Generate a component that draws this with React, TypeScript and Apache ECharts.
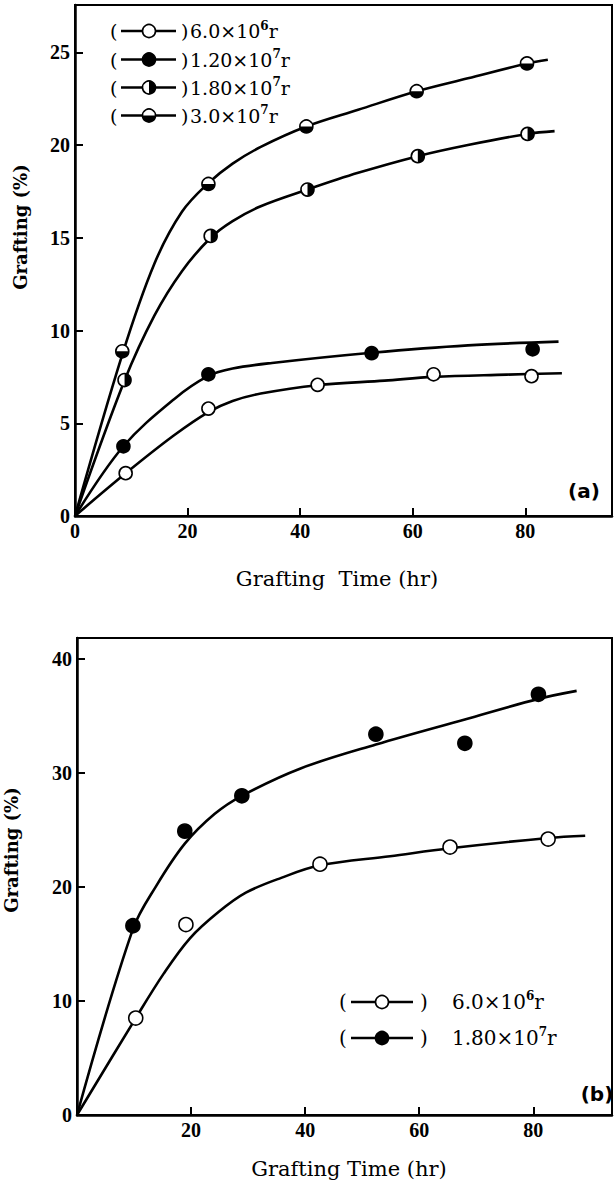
import React, { useEffect, useRef } from 'react';
import * as echarts from 'echarts';

// ---------- Panel (a) ----------
const xTicksA = [0, 20, 40, 60, 80];
const yTicksA = [0, 5, 10, 15, 20, 25];

const aCurve6e6 = [[0, 0], [9.0, 2.3], [17.6, 4.35], [23.7, 5.6], [28.0, 6.2], [33.0, 6.6], [43.1, 7.05], [55.0, 7.3], [63.7, 7.5], [76.7, 7.62], [86.5, 7.7]];
const aPts6e6 = [[9.0, 2.31], [23.7, 5.79], [43.1, 7.07], [63.7, 7.64], [81.1, 7.54]];

const aCurve12e7 = [[0, 0], [8.6, 3.76], [17.6, 6.3], [23.7, 7.55], [28.0, 7.95], [35.0, 8.25], [52.7, 8.8], [69.8, 9.2], [85.9, 9.4]];
const aPts12e7 = [[8.6, 3.76], [23.7, 7.64], [52.7, 8.78], [81.3, 8.99]];

const aCurve18e7 = [[0, 0], [8.8, 7.3], [14.1, 10.8], [19.0, 13.2], [24.1, 15.0], [28.0, 15.9], [33.0, 16.7], [41.3, 17.6], [50.3, 18.5], [60.9, 19.4], [69.8, 20.0], [80.4, 20.6], [85.2, 20.75]];
const aPts18e7 = [[8.8, 7.33], [24.1, 15.1], [41.3, 17.6], [60.9, 19.4], [80.4, 20.6]];

const aCurve3e7 = [[0, 0], [8.4, 8.7], [14.1, 13.6], [19.0, 16.4], [23.7, 17.95], [28.0, 19.0], [33.0, 19.9], [41.1, 21.0], [50.3, 21.9], [60.7, 22.9], [69.8, 23.6], [80.3, 24.4], [84.0, 24.6]];
const aPts3e7 = [[8.4, 8.88], [23.7, 17.9], [41.1, 21.0], [60.7, 22.9], [80.3, 24.4]];

// ---------- Panel (b) ----------
const xTicksB = [20, 40, 60, 80];
const yTicksB = [0, 10, 20, 30, 40];

const bCurveOpen = [[0, 0], [10.3, 8.5], [15.2, 12.4], [19.8, 15.5], [24.8, 17.8], [29.6, 19.5], [35.8, 20.8], [42.6, 21.9], [54.9, 22.7], [65.4, 23.4], [82.6, 24.3], [89.1, 24.5]];
const bPtsOpen = [[10.3, 8.5], [19.1, 16.7], [42.6, 22.0], [65.4, 23.5], [82.6, 24.2]];

const bCurveFilled = [[0, 0], [9.8, 16.3], [13.9, 20.1], [18.9, 23.8], [24.1, 26.4], [28.9, 28.0], [39.2, 30.4], [52.4, 32.5], [68.0, 34.7], [80.9, 36.5], [87.6, 37.2]];
const bPtsFilled = [[9.8, 16.6], [18.9, 24.9], [28.9, 28.0], [52.4, 33.4], [68.0, 32.6], [80.9, 36.9]];

// legend texts
const legendA = [
  { kind: 'open', base: '6.0×10', exp: '6' },
  { kind: 'filled', base: '1.20×10', exp: '7' },
  { kind: 'halfRight', base: '1.80×10', exp: '7' },
  { kind: 'halfBottom', base: '3.0×10', exp: '7' },
];
const legendB = [
  { kind: 'open', base: '6.0×10', exp: '6' },
  { kind: 'filled', base: '1.80×10', exp: '7' },
];

const SERIF = 'DejaVu Serif';
const TICKFONT = '"Liberation Serif", "Times New Roman", serif';

function buildMarker(kind: string, cx: number, cy: number, r: number) {
  const children: any[] = [];
  children.push({
    type: 'circle',
    shape: { cx, cy, r },
    style: { fill: kind === 'filled' ? '#000' : '#fff', stroke: '#000', lineWidth: 1.6 },
  });
  if (kind === 'halfRight') {
    children.push({
      type: 'sector',
      shape: { cx, cy, r0: 0, r, startAngle: -Math.PI / 2, endAngle: Math.PI / 2, clockwise: true },
      style: { fill: '#000' },
    });
  }
  if (kind === 'halfBottom') {
    children.push({
      type: 'sector',
      shape: { cx, cy, r0: 0, r, startAngle: 0, endAngle: Math.PI, clockwise: true },
      style: { fill: '#000' },
    });
  }
  return { type: 'group', children };
}

function markerSeries(data: number[][], kind: string, r: number, idx: number) {
  return {
    type: 'custom',
    xAxisIndex: idx,
    yAxisIndex: idx,
    data,
    z: 10,
    clip: false,
    silent: true,
    renderItem: (_params: any, api: any) => {
      const p = api.coord([api.value(0), api.value(1)]);
      return buildMarker(kind, p[0], p[1], r);
    },
  };
}

function lineSeries(data: number[][], idx: number) {
  return {
    type: 'line',
    xAxisIndex: idx,
    yAxisIndex: idx,
    data,
    smooth: 0.35,
    showSymbol: false,
    symbol: 'none',
    silent: true,
    z: 5,
    lineStyle: { color: '#000', width: 2.6 },
  };
}

function legendRow(item: any, y: number, pos: any) {
  return {
    type: 'group',
    children: [
      { type: 'text', x: pos.pl, y, style: { text: '(', fill: '#000', fontFamily: SERIF, fontSize: pos.fs, verticalAlign: 'middle', textVerticalAlign: 'middle' } },
      { type: 'line', shape: { x1: pos.l1, y1: y, x2: pos.l2, y2: y }, style: { stroke: '#000', lineWidth: 2.5 } },
      buildMarker(item.kind, pos.m, y, pos.r),
      { type: 'text', x: pos.pr, y, style: { text: ')', fill: '#000', fontFamily: SERIF, fontSize: pos.fs, verticalAlign: 'middle', textVerticalAlign: 'middle' } },
      {
        type: 'text',
        x: pos.t,
        y,
        style: {
          text: `{n|${item.base}}{s|${item.exp}}{n|r}`,
          verticalAlign: 'middle',
          textVerticalAlign: 'middle',
          rich: {
            n: { fontFamily: SERIF, fontSize: pos.fs, fill: '#000', lineHeight: pos.fs + 4 },
            s: { fontFamily: SERIF, fontSize: 12, fontWeight: 'bold', fill: '#000', lineHeight: 12, verticalAlign: 'top' },
          },
        },
      },
    ],
  };
}

function makeAxis(idx: number, min: number, max: number, interval: number, ticks: number[]) {
  return {
    type: 'value',
    gridIndex: idx,
    min,
    max,
    interval,
    axisLine: { show: true, onZero: false, lineStyle: { color: '#000', width: 2.5 } },
    axisTick: { show: true, inside: true, length: 8, lineStyle: { color: '#000', width: 2 } },
    splitLine: { show: false },
    axisLabel: {
      color: '#000',
      fontFamily: TICKFONT,
      fontWeight: 'bold',
      fontSize: 20,
      margin: 5,
      formatter: (v: number) => (ticks.includes(Math.round(v * 1000) / 1000) ? String(v) : ''),
    },
  };
}

export default function App() {
  const ref = useRef<HTMLDivElement>(null);
  useEffect(() => {
    const chart = echarts.init(ref.current!, undefined, { renderer: 'svg', width: 615, height: 1185 });
    const posA = { pl: 110, l1: 121, l2: 176, m: 149, r: 6.5, pr: 181, t: 190, fs: 19 };
    const posB = { pl: 339, l1: 351, l2: 413, m: 382, r: 6.5, pr: 420, t: 452, fs: 20 };
    const legendYA = [31, 59.5, 87.5, 115.5];
    const legendYB = [1002, 1038];
    const titleStyle = { fill: '#000', fontFamily: SERIF, align: 'center', verticalAlign: 'middle', textAlign: 'center', textVerticalAlign: 'middle' };
    const option: any = {
      animation: false,
      backgroundColor: '#fff',
      grid: [
        { left: 75, top: 5, width: 539, height: 511, show: true, borderColor: '#000', borderWidth: 2, backgroundColor: 'transparent' },
        { left: 77, top: 638, width: 537, height: 477, show: true, borderColor: '#000', borderWidth: 2, backgroundColor: 'transparent' },
      ],
      xAxis: [
        makeAxis(0, 0, 95.4, 20, xTicksA),
        makeAxis(1, 0, 93.8, 20, xTicksB),
      ],
      yAxis: [
        makeAxis(0, 0, 27.55, 5, yTicksA),
        makeAxis(1, 0, 41.84, 10, yTicksB),
      ],
      series: [
        lineSeries(aCurve6e6, 0),
        lineSeries(aCurve12e7, 0),
        lineSeries(aCurve18e7, 0),
        lineSeries(aCurve3e7, 0),
        markerSeries(aPts6e6, 'open', 6.5, 0),
        markerSeries(aPts12e7, 'filled', 6.5, 0),
        markerSeries(aPts18e7, 'halfRight', 6.5, 0),
        markerSeries(aPts3e7, 'halfBottom', 6.5, 0),
        lineSeries(bCurveOpen, 1),
        lineSeries(bCurveFilled, 1),
        markerSeries(bPtsOpen, 'open', 7, 1),
        markerSeries(bPtsFilled, 'filled', 7, 1),
      ],
      graphic: [
        ...legendA.map((it, i) => legendRow(it, legendYA[i], posA)),
        ...legendB.map((it, i) => legendRow(it, legendYB[i], posB)),
        { type: 'text', x: 20, y: 227, rotation: Math.PI / 2, style: { ...titleStyle, text: 'Grafting (%)', fontWeight: 'bold', fontSize: 18 } },
        { type: 'text', x: 11, y: 850, rotation: Math.PI / 2, style: { ...titleStyle, text: 'Grafting (%)', fontWeight: 'bold', fontSize: 18 } },
        { type: 'text', x: 337, y: 579, style: { ...titleStyle, text: 'Grafting  Time (hr)', fontSize: 21 } },
        { type: 'text', x: 349, y: 1169, style: { ...titleStyle, text: 'Grafting Time (hr)', fontSize: 21 } },
        { type: 'text', x: 584, y: 491, style: { ...titleStyle, text: '(a)', fontFamily: 'DejaVu Sans', fontWeight: 'bold', fontSize: 20 } },
        { type: 'text', x: 597, y: 1094, style: { ...titleStyle, text: '(b)', fontFamily: 'DejaVu Sans', fontWeight: 'bold', fontSize: 20 } },
      ],
    };
    chart.setOption(option);
    return () => chart.dispose();
  }, []);
  return <div ref={ref} style={{ position: 'absolute', left: 0, top: 0, width: 615, height: 1185, background: '#fff' }} />;
}
